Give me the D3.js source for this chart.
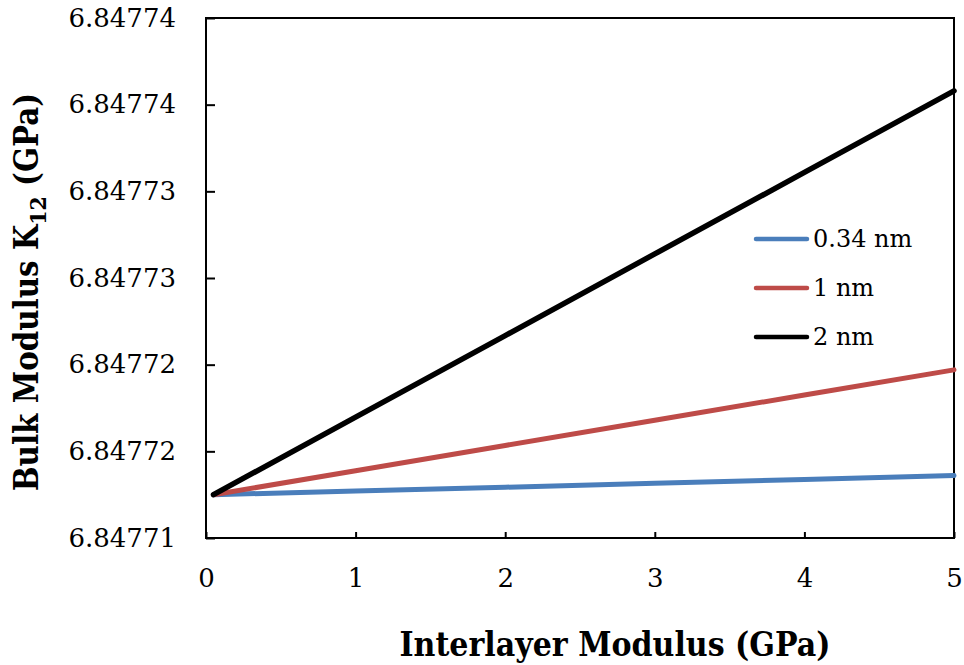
<!DOCTYPE html>
<html><head><meta charset="utf-8">
<script src="https://cdn.jsdelivr.net/npm/d3@7"></script>
<style>body{margin:0;background:#fff}svg{display:block}</style>
</head><body>
<script>
const xValues = [0.05, 1, 2, 3, 4, 5];
const series034 = [6.8477125, 6.84771271, 6.84771293, 6.84771316, 6.84771338, 6.8477136];
const series1 = [6.8477125, 6.84771388, 6.84771534, 6.84771679, 6.84771825, 6.8477197];
const series2 = [6.8477125, 6.84771697, 6.84772168, 6.84772639, 6.84773109, 6.8477358];
const seriesNames = ["0.34 nm", "1 nm", "2 nm"];
const seriesColors = ["#4a7ebb", "#be4b48", "#000000"];
const xTicks = [0, 1, 2, 3, 4, 5];
const yTickValues = [6.84771, 6.847715, 6.84772, 6.847725, 6.84773, 6.847735, 6.84774];
const yTickLabels = ["6.84771", "6.84772", "6.84772", "6.84773", "6.84773", "6.84774", "6.84774"];

const W = 964, H = 665;
const m = {left: 206, right: 10, top: 18, bottom: 127};
const svg = d3.select("body").append("svg").attr("width", W).attr("height", H);
const x = d3.scaleLinear().domain([0, 5]).range([m.left, W - m.right]);
const y = d3.scaleLinear().domain([6.84771, 6.84774]).range([H - m.bottom, m.top]);
const font = "'DejaVu Serif', serif";

// frame
svg.append("rect").attr("x", x(0)).attr("y", y(6.84774))
  .attr("width", x(5) - x(0)).attr("height", y(6.84771) - y(6.84774))
  .attr("fill", "none").attr("stroke", "#000").attr("stroke-width", 2);

// y axis
const yAxis = d3.axisLeft(y).tickValues(yTickValues).tickSizeInner(-9).tickSizeOuter(0)
  .tickPadding(30).tickFormat((d, i) => yTickLabels[i]);
const gy = svg.append("g").attr("transform", `translate(${x(0)},0)`).call(yAxis);
gy.select(".domain").remove();
gy.selectAll("line").attr("stroke", "#000").attr("stroke-width", 2);
gy.selectAll("text").attr("font-family", font).attr("font-size", 26).attr("fill", "#000");

// x axis
const xAxis = d3.axisBottom(x).tickValues(xTicks).tickSizeInner(-6).tickSizeOuter(0)
  .tickPadding(31).tickFormat(d3.format("d"));
const gx = svg.append("g").attr("transform", `translate(0,${y(6.84771)})`).call(xAxis);
gx.select(".domain").remove();
gx.selectAll("line").attr("stroke", "#000").attr("stroke-width", 2);
gx.selectAll("text").attr("font-family", font).attr("font-size", 26).attr("fill", "#000");

// lines
const allSeries = [series034, series1, series2];
const line = d3.line().x((d, i) => x(xValues[i])).y(d => y(d));
allSeries.forEach((s, k) => {
  svg.append("path").datum(s).attr("d", line).attr("fill", "none")
    .attr("stroke", seriesColors[k]).attr("stroke-width", k === 2 ? 5.5 : 5)
    .attr("stroke-linecap", "round").attr("stroke-linejoin", "round");
});

// legend
const lg = svg.append("g");
seriesNames.forEach((n, k) => {
  const ly = 239 + k * 49;
  lg.append("line").attr("x1", 756).attr("x2", 807).attr("y1", ly).attr("y2", ly)
    .attr("stroke", seriesColors[k]).attr("stroke-width", 4.5).attr("stroke-linecap", "round");
  lg.append("text").attr("x", 813).attr("y", ly + 8).text(n)
    .attr("font-family", font).attr("font-size", 24).attr("fill", "#000");
});

// axis titles
svg.append("text").attr("transform", "translate(615,656) scale(0.885,1)").attr("text-anchor", "middle")
  .attr("font-family", font).attr("font-weight", "bold").attr("font-size", 34).attr("fill", "#000")
  .text("Interlayer Modulus (GPa)");
const yt = svg.append("text").attr("transform", "translate(38,292) rotate(-90) scale(0.89,1)")
  .attr("text-anchor", "middle").attr("font-family", font).attr("font-weight", "bold")
  .attr("font-size", 33).attr("fill", "#000");
yt.append("tspan").text("Bulk Modulus K");
yt.append("tspan").attr("font-size", 23).attr("dy", 8).text("12");
yt.append("tspan").attr("dy", -8).text(" (GPa)");
</script>
</body></html>
